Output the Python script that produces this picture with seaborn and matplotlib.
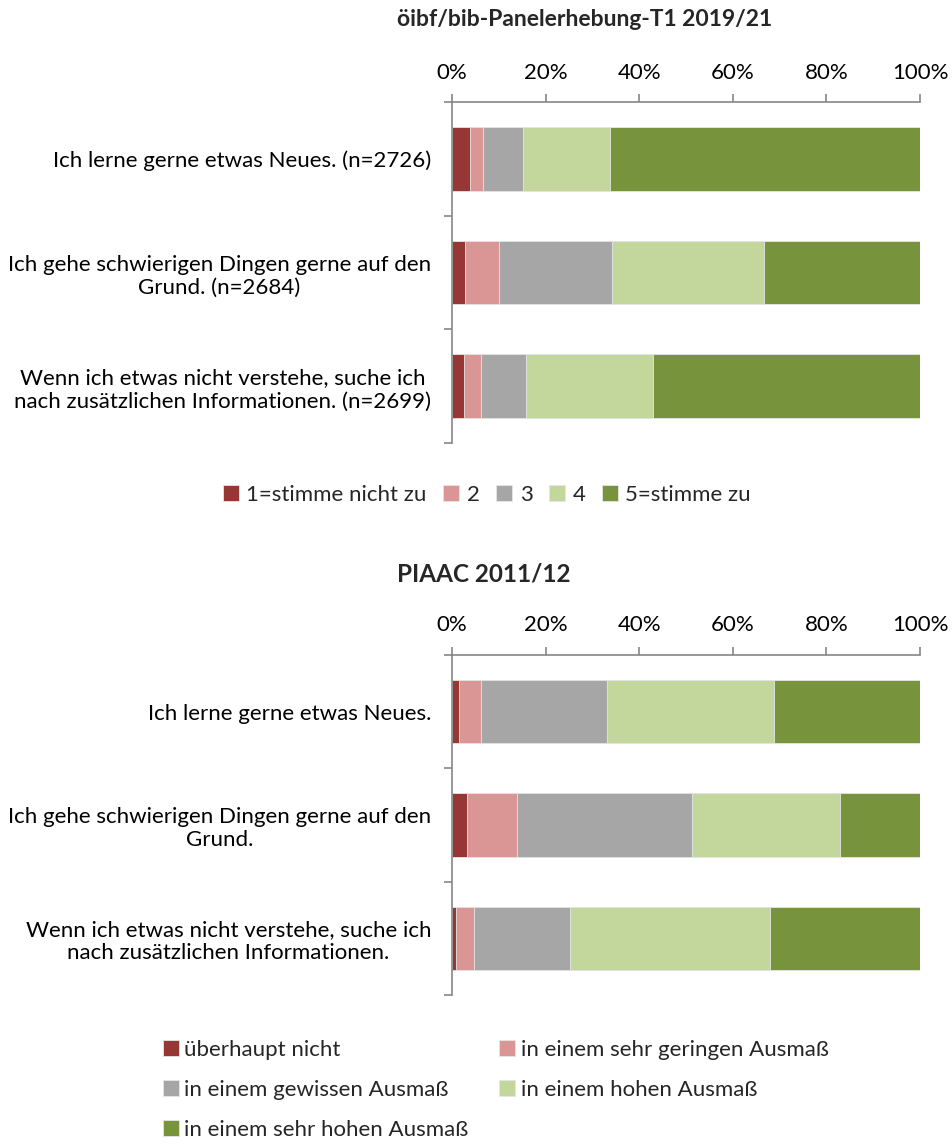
import numpy as np
import pandas as pd
import seaborn as sns
import matplotlib.pyplot as plt

sns.set_theme(style="white")
plt.rcParams['font.family'] = ['Lato', 'DejaVu Sans']

# Daten (Anteile in %)
farben = ["#953735", "#D99694", "#A6A6A6", "#C3D69B", "#77933C"]

fragen_oben = ["Ich lerne gerne etwas Neues. (n=2726)",
               "Ich gehe schwierigen Dingen gerne auf den\nGrund. (n=2684)",
               "Wenn ich etwas nicht verstehe, suche ich\nnach zusätzlichen Informationen. (n=2699)"]
stufen_oben = ["1=stimme nicht zu", "2", "3", "4", "5=stimme zu"]
werte_oben = [[3.8, 2.9, 8.5, 18.6, 66.2],
              [2.7, 7.4, 24.0, 32.6, 33.3],
              [2.5, 3.6, 9.7, 27.2, 57.0]]

fragen_unten = ["Ich lerne gerne etwas Neues.",
                "Ich gehe schwierigen Dingen gerne auf den\nGrund.",
                "Wenn ich etwas nicht verstehe, suche ich\nnach zusätzlichen Informationen."]
stufen_unten = ["überhaupt nicht", "in einem sehr geringen Ausmaß",
                "in einem gewissen Ausmaß", "in einem hohen Ausmaß",
                "in einem sehr hohen Ausmaß"]
werte_unten = [[1.4, 4.8, 27.0, 35.6, 31.2],
               [3.2, 10.7, 37.3, 31.7, 17.1],
               [0.9, 3.9, 20.4, 42.8, 32.0]]

grau = "#868686"
fs = 16


def gestapelt(ax, fragen, stufen, werte):
    df = pd.DataFrame(werte, columns=stufen)
    df["frage"] = fragen
    kum = df[stufen].cumsum(axis=1)
    # von hinten nach vorne zeichnen, damit sich die Balken stapeln
    for i in range(len(stufen) - 1, -1, -1):
        sns.barplot(x=kum[stufen[i]], y=df["frage"], color=farben[i], width=0.56,
                    label=stufen[i], ax=ax, saturation=1,
                    edgecolor="#e6e6e6", linewidth=0.6)
    ax.set_xlim(0, 100)
    ax.set_ylim(2.5, -0.5)
    ax.set_xlabel("")
    ax.set_ylabel("")
    ax.xaxis.tick_top()
    ax.set_xticks([0, 20, 40, 60, 80, 100])
    ax.set_xticklabels([f"{v}%" for v in range(0, 101, 20)])
    ax.tick_params(axis="x", direction="out", length=6, width=1.2, color=grau,
                   pad=8, labelsize=fs, top=True, bottom=False, labelcolor="black")
    ax.set_yticks(range(len(fragen)))
    ax.set_yticklabels(fragen, multialignment="center")
    ax.set_yticks([-0.5, 0.5, 1.5, 2.5], minor=True)
    ax.tick_params(axis="y", which="major", length=0, pad=15, labelsize=fs,
                   labelcolor="black")
    ax.tick_params(axis="y", which="minor", left=True, direction="out", length=6,
                   width=1.2, color=grau)
    for s in ["right", "bottom"]:
        ax.spines[s].set_visible(False)
    for s in ["left", "top"]:
        ax.spines[s].set_color(grau)
        ax.spines[s].set_linewidth(1.2)
    ax.grid(False)
    h, l = ax.get_legend_handles_labels()
    if ax.get_legend():
        ax.get_legend().remove()
    return h[::-1], l[::-1]


fig = plt.figure(figsize=(9.52, 11.46), dpi=100)
ax1 = fig.add_axes([0.4748, 0.6134, 0.4916, 0.2976])
ax2 = fig.add_axes([0.4748, 0.1318, 0.4916, 0.2967])

h1, l1 = gestapelt(ax1, fragen_oben, stufen_oben, werte_oben)
h2, l2 = gestapelt(ax2, fragen_unten, stufen_unten, werte_unten)

fig.text(585 / 952, 1 - 20 / 1146, "öibf/bib-Panelerhebung-T1 2019/21",
         ha="center", va="center", fontsize=16.5, fontweight="bold")
fig.text(484 / 952, 1 - 574 / 1146, "PIAAC 2011/12",
         ha="center", va="center", fontsize=17.5, fontweight="bold")

fig.legend(h1, l1, loc="center", bbox_to_anchor=(487 / 952, 1 - 495 / 1146),
           ncol=5, frameon=False, fontsize=fs, handlelength=0.7,
           handleheight=0.7, handletextpad=0.35, columnspacing=0.75)

reihenfolge = [0, 2, 4, 1, 3]
fig.legend([h2[i] for i in reihenfolge], [l2[i] for i in reihenfolge],
           loc="upper left", bbox_to_anchor=(143 / 952, 1 - 1020 / 1146),
           ncol=2, frameon=False, fontsize=fs, handlelength=0.7,
           handleheight=0.7, handletextpad=0.25, columnspacing=1.4,
           labelspacing=0.9)

fig.savefig("out.png", dpi=100)
